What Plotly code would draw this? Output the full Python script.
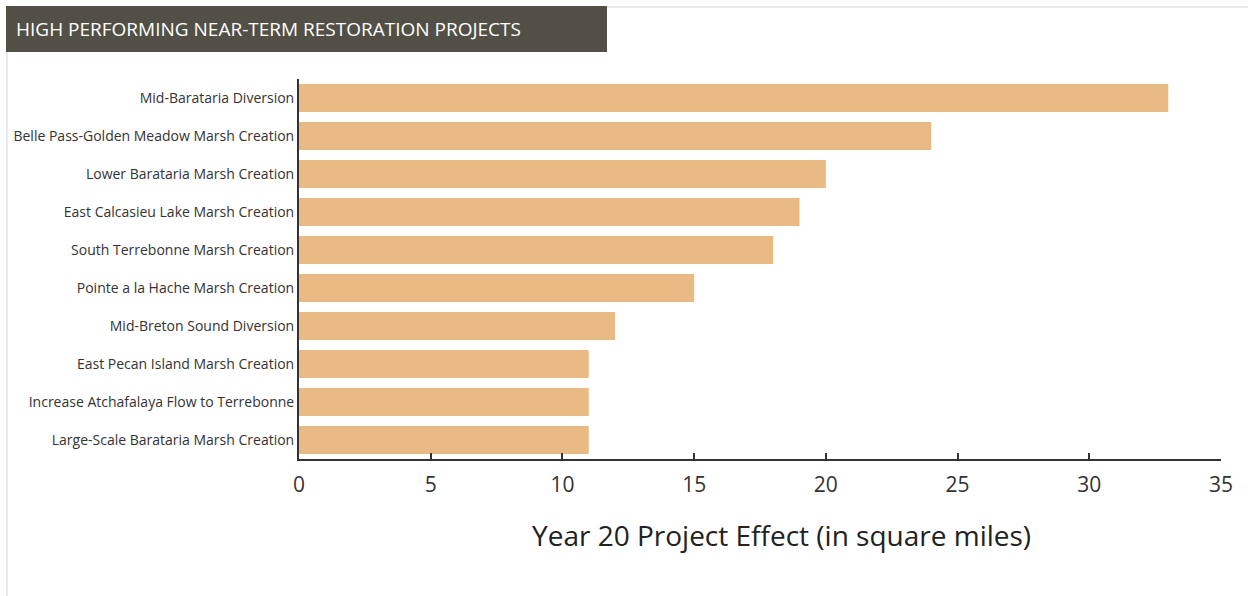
import plotly.graph_objects as go

# Project names (top to bottom) and their Year 20 land-area effect in square miles
projects = [
    "Mid-Barataria Diversion",
    "Belle Pass-Golden Meadow Marsh Creation",
    "Lower Barataria Marsh Creation",
    "East Calcasieu Lake Marsh Creation",
    "South Terrebonne Marsh Creation",
    "Pointe a la Hache Marsh Creation",
    "Mid-Breton Sound Diversion",
    "East Pecan Island Marsh Creation",
    "Increase Atchafalaya Flow to Terrebonne",
    "Large-Scale Barataria Marsh Creation",
]
effect_sq_mi = [33, 24, 20, 19, 18, 15, 12, 11, 11, 11]

x_ticks = [0, 5, 10, 15, 20, 25, 30, 35]

W, H = 1248, 596
L, R, T, B = 299, 27, 79, 137
PW, PH = W - L - R, H - T - B
FONT = "'Open Sans', Lato, sans-serif"
TEXT = "#333333"


def px(x):
    """Horizontal pixel position -> paper coordinate."""
    return (x - L) / PW


def py(y):
    """Vertical pixel position (from top) -> paper coordinate."""
    return (H - B - y) / PH


fig = go.Figure(
    go.Bar(
        x=effect_sq_mi,
        y=projects,
        orientation="h",
        marker=dict(color="#EABA85", line=dict(width=0)),
        hoverinfo="x+y",
    )
)

fig.update_layout(
    width=W,
    height=H,
    margin=dict(l=L, r=R, t=T, b=B),
    paper_bgcolor="white",
    plot_bgcolor="white",
    bargap=0.26,
    showlegend=False,
    font=dict(family=FONT, color=TEXT),
    xaxis=dict(
        range=[0, 35],
        tickvals=x_ticks,
        ticks="inside",
        ticklen=6,
        tickwidth=1.5,
        tickcolor=TEXT,
        showline=True,
        linecolor=TEXT,
        linewidth=2,
        showgrid=False,
        zeroline=False,
        tickfont=dict(size=21, color=TEXT),
        ticklabelstandoff=6,
    ),
    yaxis=dict(
        categoryorder="array",
        categoryarray=projects[::-1],
        showline=True,
        linecolor=TEXT,
        linewidth=2,
        showgrid=False,
        zeroline=False,
        ticks="",
        tickfont=dict(size=14, color=TEXT),
        ticklabelstandoff=0,
    ),
    shapes=[
        # card outline
        dict(type="line", xref="paper", yref="paper",
             x0=px(607), x1=px(W), y0=py(7), y1=py(7),
             line=dict(color="#EBEBEB", width=2)),
        dict(type="line", xref="paper", yref="paper",
             x0=px(7), x1=px(7), y0=py(52), y1=py(H),
             line=dict(color="#EBEBEB", width=2)),
        # title band
        dict(type="rect", xref="paper", yref="paper",
             x0=px(6), x1=px(607), y0=py(52), y1=py(6),
             fillcolor="#525046", line=dict(width=0), layer="below"),
    ],
    annotations=[
        dict(text="HIGH PERFORMING NEAR-TERM RESTORATION PROJECTS",
             xref="paper", yref="paper", x=px(14), y=py(29),
             xanchor="left", yanchor="middle", showarrow=False,
             font=dict(family=FONT, size=19, color="white", weight=500)),
        dict(text="Year 20 Project Effect (in square miles)",
             xref="paper", yref="paper", x=px(781), y=py(535),
             xanchor="center", yanchor="middle", showarrow=False,
             font=dict(family=FONT, size=28, color="#222222")),
    ],
)

fig.write_html("out.html")
